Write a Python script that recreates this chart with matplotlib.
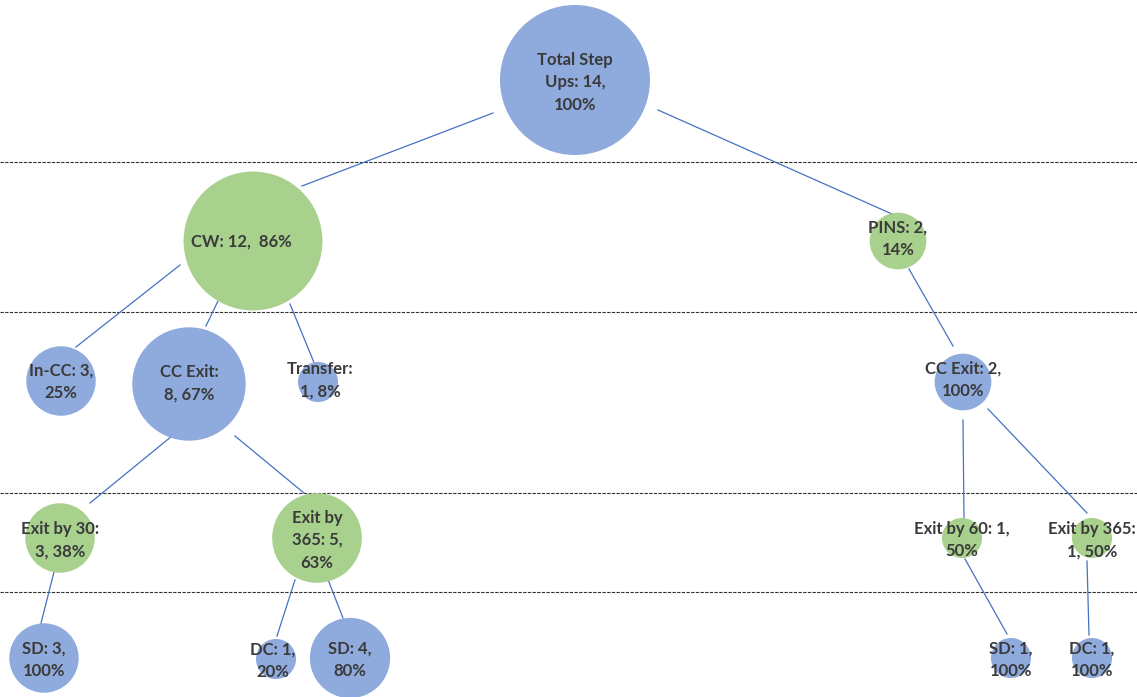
import matplotlib
matplotlib.use("Agg")
import matplotlib.pyplot as plt
from matplotlib.patches import Circle
import numpy as np

# ---------------- data ----------------
node_names = ["Total Step Ups", "CW", "PINS", "In-CC", "CC Exit", "Transfer",
              "CC Exit (PINS)", "Exit by 30", "Exit by 365", "Exit by 60",
              "Exit by 365 (PINS)", "SD (30)", "DC (365)", "SD (365)",
              "SD (60)", "DC (365 PINS)"]
node_counts = [14, 12, 2, 3, 8, 1, 2, 3, 5, 1, 1, 3, 1, 4, 1, 1]
node_labels = ["Total Step\nUps: 14,\n100%", "CW: 12,  86%", "PINS: 2,\n14%",
               "In-CC: 3,\n25%", "CC Exit:\n8, 67%", "Transfer:\n1, 8%",
               "CC Exit: 2,\n100%", "Exit by 30:\n3, 38%", "Exit by\n365: 5,\n63%",
               "Exit by 60: 1,\n50%", "Exit by 365:\n1, 50%", "SD: 3,\n100%",
               "DC: 1,\n20%", "SD: 4,\n80%", "SD: 1,\n100%", "DC: 1,\n100%"]
node_kind = ["blue", "green", "green", "blue", "blue", "blue", "blue", "green",
             "green", "green", "green", "blue", "blue", "blue", "blue", "blue"]
edges = [(0, 1), (0, 2), (1, 3), (1, 4), (1, 5), (2, 6), (6, 9), (6, 10),
         (4, 7), (4, 8), (7, 11), (8, 12), (8, 13), (9, 14), (10, 15)]

# ---------------- layout (pixels) ----------------
W, H = 1137, 697
centers = [(575, 80), (253, 241), (898, 241), (61, 381), (189, 384), (318, 382),
           (963, 382), (60, 538), (317, 538), (962, 538), (1092, 538),
           (44, 658), (276, 659), (350, 658), (1011, 658), (1092, 658)]
label_offsets = [(0, 2), (-12, 1), (0, -2), (0, 1), (0, -1), (2, -2),
                 (0, -2), (0, 2), (0, 2), (0, 2), (0, 2), (0, 2), (-3, 2),
                 (0, 2), (0, 2), (0, 2)]
edge_segments = [((493, 113), (302, 186)), ((658, 110), (892, 214)),
                 ((180, 265), (76, 347)), ((218, 301), (206, 326)),
                 ((290, 304), (315, 365)), ((909, 269), (953, 346)),
                 ((963, 420), (964, 519)), ((988, 409), (1087, 513)),
                 ((172, 436), (90, 503)), ((235, 436), (304, 493)),
                 ((55, 568), (39, 631)), ((295, 580), (277, 636)),
                 ((327, 577), (343, 618)), ((965, 559), (1007, 634)),
                 ((1087, 561), (1089, 635))]
dash_levels = [162, 312, 493, 592]
r_max = 75

colors = {"blue": "#8FAADC", "green": "#A9D18E"}
line_color = "#4472C4"
text_color = "#3A3A3A"

fig = plt.figure(figsize=(W / 100, H / 100), dpi=100)
ax = fig.add_axes([0, 0, 1, 1])
ax.set_xlim(0, W)
ax.set_ylim(H, 0)
ax.axis("off")

for y in dash_levels:
    ax.plot([0, W], [y, y], color="#303030", lw=0.8,
            linestyle=(0, (3, 1.2)), zorder=1)

for (p0, p1) in edge_segments:
    ax.plot([p0[0], p1[0]], [p0[1], p1[1]], color=line_color, lw=0.9, zorder=2)

total = node_counts[0]
for i, name in enumerate(node_names):
    cx, cy = centers[i]
    r = r_max * np.sqrt(node_counts[i] / total)
    ax.add_patch(Circle((cx, cy), r, facecolor=colors[node_kind[i]],
                        edgecolor="none", zorder=3))
    dx, dy = label_offsets[i]
    ax.text(cx + dx, cy + dy, node_labels[i], ha="center", va="center",
            multialignment="center", fontsize=12, fontweight="bold",
            family=["Lato", "DejaVu Sans"], color=text_color,
            linespacing=1.5, zorder=4)

fig.savefig("out.png", dpi=100)
